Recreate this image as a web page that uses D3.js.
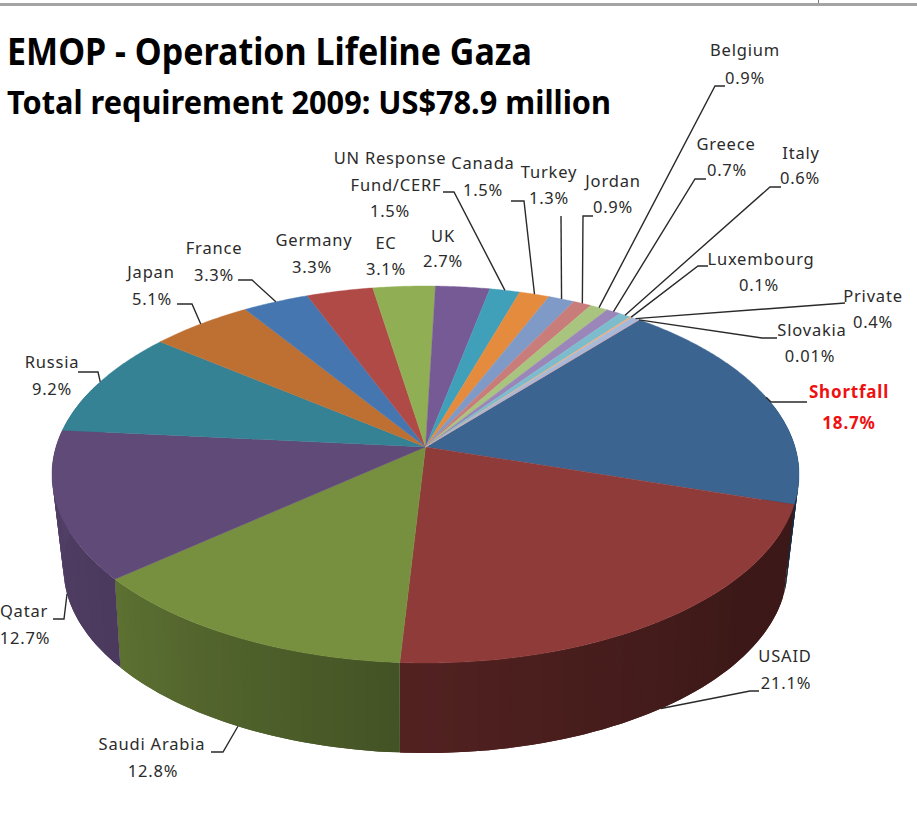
<!DOCTYPE html>
<html><head><meta charset="utf-8">
<script src="https://cdn.jsdelivr.net/npm/d3@7/dist/d3.min.js"></script>
<style>html,body{margin:0;padding:0;background:#fff}svg{display:block}
text{font-family:"Noto Sans",sans-serif}</style></head>
<body><svg id="c" width="917" height="820"></svg>
<script>
// Data
const donors = ["Shortfall","USAID","Saudi Arabia","Qatar","Russia","Japan","France","Germany","EC","UK","UN Response Fund/CERF","Canada","Turkey","Jordan","Belgium","Greece","Italy","Luxembourg","Private","Slovakia"];
const shares = [18.7,21.1,12.8,12.7,9.2,5.1,3.3,3.3,3.1,2.7,1.5,1.5,1.3,0.9,0.9,0.7,0.6,0.1,0.4,0.01];
const titleLines = ["EMOP - Operation Lifeline Gaza","Total requirement 2009: US$78.9 million"];

// Styles
const colors = ["#3b6491","#8f3b39","#769040","#604a78","#368295","#bd7032","#4676b0","#b04a47","#90ae54","#765a96","#40a0b9","#e58b3d","#7f9ac7","#c97d7b","#a9c47e","#9a86b8","#7cbccc","#f0ad77","#a6b9da","#d9a5a4"];

// Label layout: text lines with centre x and baselines, leader elbows, which rim the leader meets
const layout = {
  "Shortfall":{t:[["Shortfall",849,398],["18.7%",849,429]],red:true,el:[[807,402],[771,402]],rim:"top"},
  "USAID":{t:[["USAID",785,662],["21.1%",786,689]],el:[[759,691],[750,691]],rim:"bottom"},
  "Saudi Arabia":{t:[["Saudi Arabia",152,750],["12.8%",153,777]],el:[[211,752],[223,752]],rim:"bottom"},
  "Qatar":{t:[["Qatar",24,617],["12.7%",25,644]],el:[[53,619],[64,619]],rim:"bottom"},
  "Russia":{t:[["Russia",52,368],["9.2%",52,395]],el:[[78,372],[98,372]],rim:"top"},
  "Japan":{t:[["Japan",151,278],["5.1%",152,305]],el:[[177,304],[192,304]],rim:"top"},
  "France":{t:[["France",214,254],["3.3%",214,281]],el:[[238,280],[252,280]],rim:"top"},
  "Germany":{t:[["Germany",314,246],["3.3%",312,273]]},
  "EC":{t:[["EC",386,249],["3.1%",386,275]]},
  "UK":{t:[["UK",443,242],["2.7%",443,267]]},
  "UN Response Fund/CERF":{t:[["UN Response",390,164],["Fund/CERF",396,191],["1.5%",390,217]],el:[[443,192],[454,192]],rim:"top"},
  "Canada":{t:[["Canada",483,169],["1.5%",483,196]],el:[[511,201],[524,201]],rim:"top"},
  "Turkey":{t:[["Turkey",549,178],["1.3%",549,204]],el:[[561,216]],rim:"top"},
  "Jordan":{t:[["Jordan",613,187],["0.9%",613,213]],el:[[593,216],[583,216]],rim:"top"},
  "Belgium":{t:[["Belgium",745,56],["0.9%",745,84]],el:[[725,86],[715,86]],rim:"top"},
  "Greece":{t:[["Greece",726,150],["0.7%",727,176]],el:[[706,179],[695,179]],rim:"top"},
  "Italy":{t:[["Italy",801,159],["0.6%",800,184]],el:[[781,187],[770,187]],rim:"top"},
  "Luxembourg":{t:[["Luxembourg",761,265],["0.1%",759,291]],el:[[708,266],[698,266]],rim:"top"},
  "Private":{t:[["Private",873,302],["0.4%",873,328]],el:[[845,303]],rim:"top"},
  "Slovakia":{t:[["Slovakia",812,336],["0.01%",810,362]],el:[[777,338],[762,338]],rim:"top"}
};

const svg = d3.select("#c");

// Page rule at the top of the screenshot
svg.append("rect").attr("x",0).attr("y",3).attr("width",917).attr("height",3).attr("fill","#a4a4a4");
svg.append("line").attr("x1",818.5).attr("x2",818.5).attr("y1",0).attr("y2",3).attr("stroke","#777");

// Perspective: unit disc -> off-centre point inside an ellipse
const topFace = {cx:425.5, cy:474.5, rx:373.5, ry:188.5, skew:-0.146};
const botFace = {cx:425.5, cy:568, rx:362, ry:185, skew:-0.17};
function proj(a, f){
  const u = Math.sin(a), v = -Math.cos(a);
  const d = 1 + f.skew*v;
  return [f.cx + f.rx*u*Math.sqrt(1-f.skew*f.skew)/d, f.cy + f.ry*(v+f.skew)/d];
}
const arcs = d3.pie().value(d=>d).sort(null)
  .startAngle(40*Math.PI/180).endAngle((40+360)*Math.PI/180)(shares);

const shade = d3.scaleLinear().domain([85,107,130,183,229,270]).range([.6,.42,.42,.57,.78,.85]).clamp(true);
const line = d3.line();

// Side wall, as overlapping strips shaded by angle
const walls = svg.append("g");
arcs.forEach((a,i)=>{
  const deg = 1.5*Math.PI/180;
  const n = Math.max(1,Math.ceil((a.endAngle-a.startAngle)/deg));
  const step = (a.endAngle-a.startAngle)/n;
  d3.range(n).forEach(k=>{
    const t0 = a.startAngle+step*k, t1 = a.startAngle+step*(k+1)+(k<n-1?step:0);
    const dg = ((t0+step/2)*180/Math.PI)%360;
    if(dg>290||dg<75) return;
    const c = d3.rgb(colors[i]); const s = shade(dg);
    const col = d3.rgb(c.r*s,c.g*s,c.b*s).formatHex();
    walls.append("path").attr("d",line([proj(t0,topFace),proj((t0+t1)/2,topFace),proj(t1,topFace),proj(t1,botFace),proj((t0+t1)/2,botFace),proj(t0,botFace)])+"Z")
      .attr("fill",col);
  });
});

// Top face
const centre = [topFace.cx, topFace.cy + topFace.ry*topFace.skew];
const face = svg.append("g");
arcs.forEach((a,i)=>{
  const pts=[centre];
  const n=Math.max(2,Math.ceil((a.endAngle-a.startAngle)/(0.5*Math.PI/180)));
  d3.range(n+1).forEach(k=>pts.push(proj(a.startAngle+(a.endAngle-a.startAngle)*k/n,topFace)));
  face.append("path").attr("d",line(pts)+"Z").attr("fill",colors[i]).attr("stroke",colors[i]).attr("stroke-width",.4);
});

// Leaders and labels
const lg = svg.append("g");
arcs.forEach((a,i)=>{
  const L = layout[donors[i]];
  const mid=(a.startAngle+a.endAngle)/2;
  if(L.el){
    const anchor = proj(mid, L.rim==="bottom"?botFace:topFace);
    lg.append("path").attr("d",line([...L.el,anchor])).attr("fill","none").attr("stroke","#2a2a2a").attr("stroke-width",1.4);
  }
  L.t.forEach(r=>{
    lg.append("text").attr("x",r[1]).attr("y",r[2]).attr("text-anchor","middle")
      .attr("font-size",L.red?17:16.5).attr("font-weight",L.red?700:400)
      .attr("letter-spacing",0.8)
      .attr("fill",L.red?"#f01010":"#2b2b2b")
      .text(r[0]);
  });
});
// Titles
svg.append("text").attr("x",7).attr("y",65).attr("font-size",38).attr("font-weight",700).attr("fill","#000")
  .attr("textLength",525).attr("lengthAdjust","spacingAndGlyphs").text(titleLines[0]);
svg.append("text").attr("x",7).attr("y",114).attr("font-size",32).attr("font-weight",700).attr("fill","#000")
  .attr("textLength",604).attr("lengthAdjust","spacingAndGlyphs").text(titleLines[1]);
</script></body></html>
